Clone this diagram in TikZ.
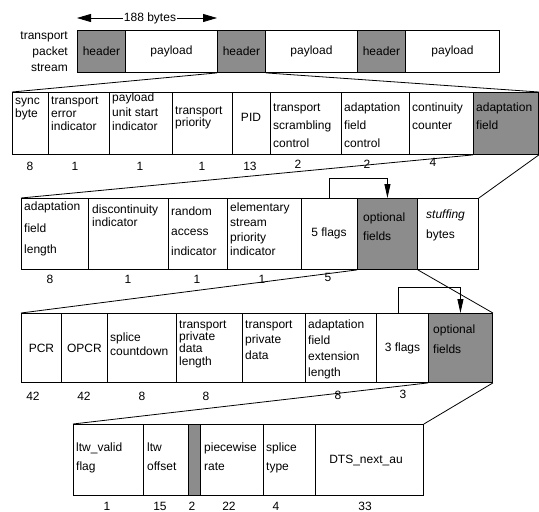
\documentclass[tikz,border=0pt]{standalone}
\usepackage{fontspec}
\setmainfont{Liberation Sans}
\usetikzlibrary{arrows.meta}
\newcommand\tp{\rule{0pt}{8.1pt}}
\begin{document}
\begin{tikzpicture}[x=1pt,y=-1pt,
  box/.style={draw, line width=0.9pt, inner sep=0pt, anchor=north west, font=\fontsize{12}{13}\selectfont},
  shbox/.style={box, fill=black!45},
  txt/.style={anchor=north west, inner sep=0pt, align=left, font=\fontsize{12}{#1}\selectfont},
  txt/.default=13,
  ctr/.style={inner sep=0pt, font=\fontsize{12}{13}\selectfont},
  num/.style={inner sep=0pt, font=\fontsize{12}{13}\selectfont},
  conn/.style={line width=0.8pt},
  fb/.style={line width=0.8pt, -{Triangle[length=14pt,width=6pt]}},
  big/.style={line width=0.8pt, {Triangle[length=14pt,width=8pt]}-{Triangle[length=14pt,width=8pt]}}
]
\useasboundingbox (0,0) rectangle (539,512);

% ---------- row 0: transport packet stream ----------
\node[txt=16, align=right, anchor=north east] (tps) at (68,31) {\tp transport\\packet\\stream};
\node[shbox, minimum width=48pt, minimum height=42pt] (h1) at (77,30) {header};
\node[box, minimum width=92pt, minimum height=42pt] (p1) at (125,30) {payload};
\node[shbox, minimum width=48pt, minimum height=42pt] (h2) at (217,30) {header};
\node[box, minimum width=92pt, minimum height=42pt] (p2) at (265,30) {payload};
\node[shbox, minimum width=48pt, minimum height=42pt] (h3) at (357,30) {header};
\node[box, minimum width=94pt, minimum height=42pt] (p3) at (405,30) {payload};
\coordinate (al) at (77,18);
\coordinate (ar) at (217,18);
\draw[big] (al) -- (ar);
\node[ctr, fill=white, inner xsep=1pt] (bytes) at (150,18) {188 bytes};

% ---------- row 1: header ----------
\node[box, minimum width=36pt, minimum height=62pt] (sync) at (12,92) {};
\node[box, minimum width=61pt, minimum height=62pt] (tei) at (48,92) {};
\node[box, minimum width=63pt, minimum height=62pt] (pusi) at (109,92) {};
\node[box, minimum width=60pt, minimum height=62pt] (tpr) at (172,92) {};
\node[box, minimum width=38pt, minimum height=62pt] (pid) at (232,92) {};
\node[box, minimum width=71pt, minimum height=62pt] (tsc) at (270,92) {};
\node[box, minimum width=68pt, minimum height=62pt] (afc) at (341,92) {};
\node[box, minimum width=64pt, minimum height=62pt] (cc) at (409,92) {};
\node[shbox, minimum width=65pt, minimum height=62pt] (adf) at (473,92) {};

\node[txt=13] (tsync) at (15,96) {\tp sync\\byte};
\node[txt=13] (ttei) at (51,96) {\tp transport\\error\\indicator};
\node[txt=14.5] (tpusi) at (112,93) {\tp payload\\unit start\\indicator};
\node[txt=12] (ttpr) at (175,106) {\tp transport\\priority};
\node[ctr] (tpid) at (251,117) {PID};
\node[txt=18] (ttsc) at (273,103) {\tp transport\\scrambling\\control};
\node[txt=18] (tafc) at (344,103) {\tp adaptation\\field\\control};
\node[txt=18] (tcc) at (412,103) {\tp continuity\\counter};
\node[txt=18] (tadf) at (476,103) {\tp adaptation\\field};

\node[num] (n1a) at (30,166) {8};
\node[num] (n1b) at (75,166) {1};
\node[num] (n1c) at (140,166) {1};
\node[num] (n1d) at (202,166) {1};
\node[num] (n1e) at (250,166) {13};
\node[num] (n1f) at (298,164) {2};
\node[num] (n1g) at (367,164) {2};
\node[num] (n1h) at (433,162) {4};

\draw[conn] (h2.south west) -- (sync.north west);
\draw[conn] (h2.south east) -- (adf.north east);

% ---------- row 2: adaptation field ----------
\node[box, minimum width=67pt, minimum height=71pt] (afl) at (21,198) {};
\node[box, minimum width=80pt, minimum height=71pt] (di) at (88,198) {};
\node[box, minimum width=59pt, minimum height=71pt] (rai) at (168,198) {};
\node[box, minimum width=74pt, minimum height=71pt] (espi) at (227,198) {};
\node[box, minimum width=56pt, minimum height=71pt] (fivefl) at (301,198) {};
\node[shbox, minimum width=60pt, minimum height=71pt] (optf) at (357,198) {};
\node[box, minimum width=61pt, minimum height=71pt] (stuff) at (417,198) {};

\node[txt=21.5] (tafl) at (24,202) {\tp adaptation\\field\\length};
\node[txt=13] (tdi) at (92,205) {\tp discontinuity\\indicator};
\node[txt=20] (trai) at (171,207) {\tp random\\access\\indicator};
\node[txt=14.7] (tespi) at (230,203) {\tp elementary\\stream\\priority\\indicator};
\node[ctr] (tfive) at (329,233) {5 flags};
\node[txt=19] (toptf) at (363,213) {\tp optional\\fields};
\node[txt=20] (tstuff) at (426,210) {\tp\textit{stuffing}\\bytes};

\node[num] (n2a) at (50,279) {8};
\node[num] (n2b) at (128,279) {1};
\node[num] (n2c) at (197,279) {1};
\node[num] (n2d) at (262,279) {1};
\node[num] (n2e) at (328,277) {5};

\draw[conn] (adf.south west) -- (afl.north west);
\draw[conn] (adf.south east) -- (stuff.north east);
\draw[fb] (fivefl.north) -- ++(0,-20) -| (optf.north);

% ---------- row 3: optional fields ----------
\node[box, minimum width=40pt, minimum height=69pt] (pcr) at (21,313) {PCR};
\node[box, minimum width=46pt, minimum height=69pt] (opcr) at (61,313) {OPCR};
\node[box, minimum width=69pt, minimum height=69pt] (sc) at (107,313) {};
\node[box, minimum width=66pt, minimum height=69pt] (tpdl) at (176,313) {};
\node[box, minimum width=63pt, minimum height=69pt] (tpd) at (242,313) {};
\node[box, minimum width=71pt, minimum height=69pt] (afel) at (305,313) {};
\node[box, minimum width=52pt, minimum height=69pt] (threefl) at (376,313) {3 flags};
\node[shbox, minimum width=64pt, minimum height=69pt] (optf2) at (428,313) {};

\node[txt=14] (tsc) at (110,333) {\tp splice\\countdown};
\node[txt=12.3] (ttpdl) at (179,320) {\tp transport\\private\\data\\length};
\node[txt=15.5] (ttpd) at (245,320) {\tp transport\\private\\data};
\node[txt=16] (tafel) at (308,320) {\tp adaptation\\field\\extension\\length};
\node[txt=20] (toptf2) at (433,325) {\tp optional\\fields};

\node[num] (n3a) at (33,396) {42};
\node[num] (n3b) at (84,396) {42};
\node[num] (n3c) at (142,396) {8};
\node[num] (n3d) at (206,396) {8};
\node[num] (n3e) at (338,395) {8};
\node[num] (n3f) at (403,394) {3};

\draw[conn] (optf.south west) -- (pcr.north west);
\draw[conn] (optf.south east) -- (optf2.north east);
\draw[fb] ([xshift=-4pt]threefl.north) -- ++(0,-26) -| (optf2.north);

% ---------- row 4: adaptation field extension ----------
\node[box, minimum width=70pt, minimum height=71pt] (ltwv) at (73,424) {};
\node[box, minimum width=45pt, minimum height=71pt] (ltwo) at (143,424) {};
\node[shbox, minimum width=12pt, minimum height=71pt] (res) at (188,424) {};
\node[box, minimum width=63pt, minimum height=71pt] (pr) at (200,424) {};
\node[box, minimum width=52pt, minimum height=71pt] (st) at (263,424) {};
\node[box, minimum width=108pt, minimum height=71pt] (dts) at (315,424) {};

\node[txt=19] (tltwv) at (76,443) {\tp ltw\_valid\\flag};
\node[txt=19] (tltwo) at (147,443) {\tp ltw\\offset};
\node[txt=19] (tpr) at (204,443) {\tp piecewise\\rate};
\node[txt=19] (tst) at (266,443) {\tp splice\\type};
\node[ctr] (tdts) at (366,460) {DTS\_next\_au};

\node[num] (n4a) at (107,506) {1};
\node[num] (n4b) at (160,506) {15};
\node[num] (n4c) at (192,506) {2};
\node[num] (n4d) at (229,506) {22};
\node[num] (n4e) at (276,506) {4};
\node[num] (n4f) at (365,506) {33};

\draw[conn] (optf2.south west) -- (ltwv.north west);
\draw[conn] (optf2.south east) -- (dts.north east);
\end{tikzpicture}
\end{document}
